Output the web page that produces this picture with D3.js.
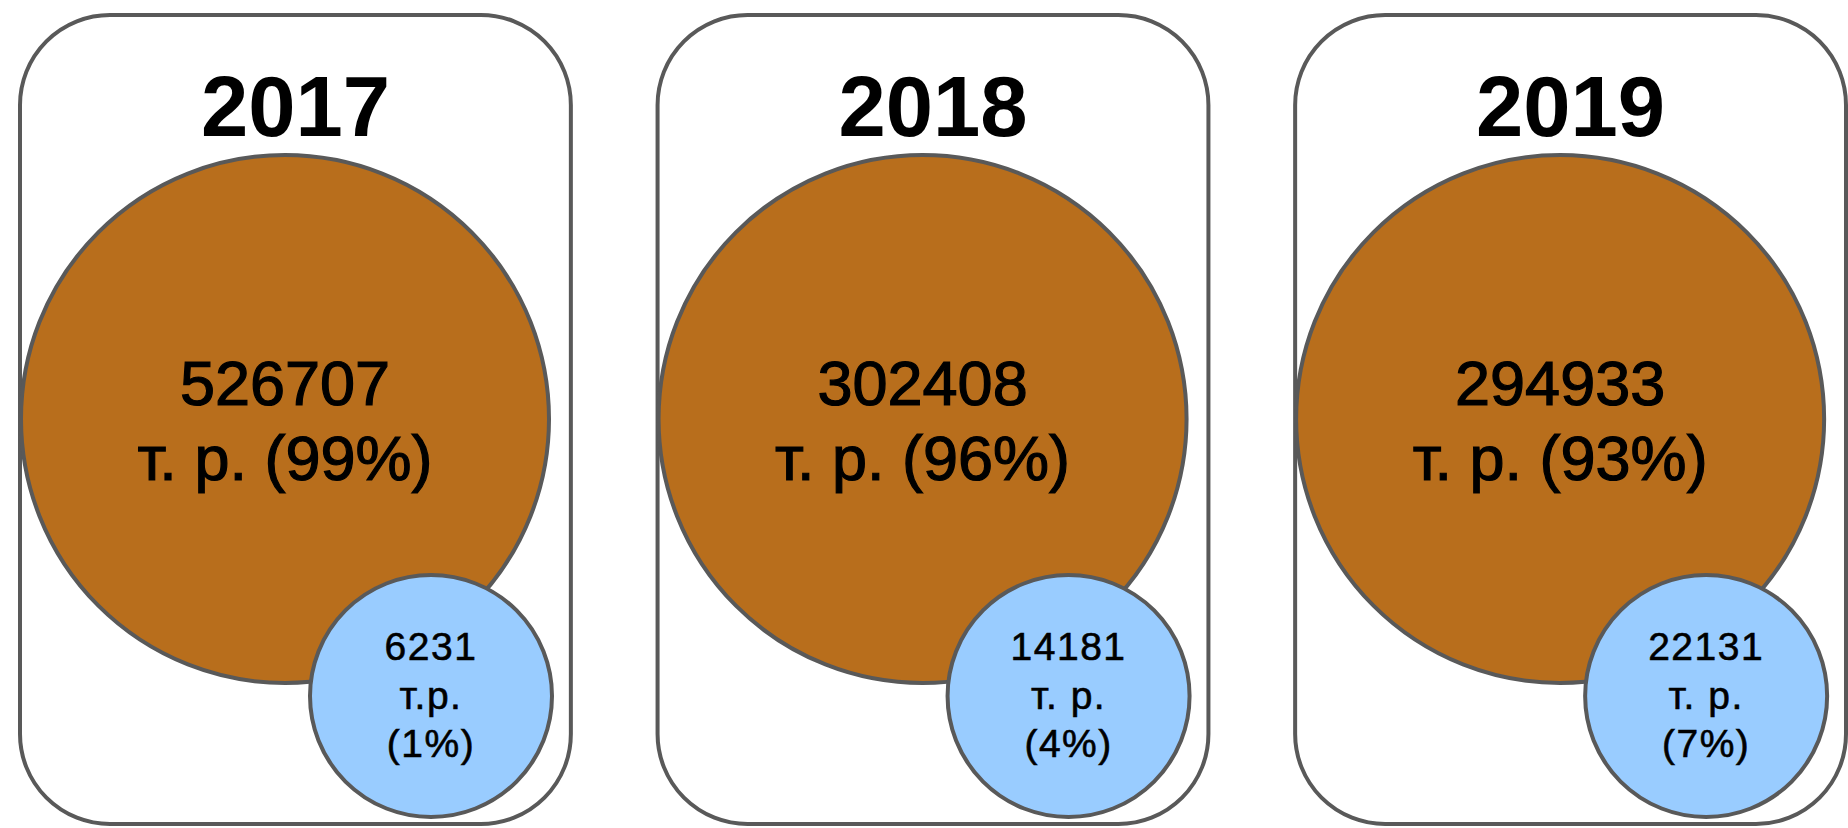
<!DOCTYPE html>
<html>
<head>
<meta charset="utf-8">
<script src="https://cdn.jsdelivr.net/npm/d3@7"></script>
<style>
  body { margin: 0; background: #fff; }
  text { font-family: "Liberation Sans", Arial, sans-serif; fill: #000; }
</style>
</head>
<body>
<svg id="canvas"></svg>
<script>
const w = 1848,
h = 828;

// data
const years = ["2017", "2018", "2019"];
const bigValues = [526707, 302408, 294933];
const bigShares = ["99%", "96%", "93%"];
const smallValues = [6231, 14181, 22131];
const smallShares = ["1%", "4%", "7%"];
const smallUnits = ["т.р.", "т. р.", "т. р."];

const data = years.map((y, i) => ({
  year: y,
  big: bigValues[i],
  bigShare: bigShares[i],
  small: smallValues[i],
  smallShare: smallShares[i],
  unit: smallUnits[i]
}));

const svg = d3.select("#canvas")
  .attr("width", w)
  .attr("height", h);

// panels laid out with a band scale
const x = d3.scaleBand()
  .domain(years)
  .range([20, 1846])
  .paddingInner(0.136);

const panelTop = 15, panelBottom = 824;
const bigR = 264, smallR = 121;
const bigCx = 265, smallCx = 411;
const bigCy = 419, smallCy = 696;
const stroke = "#595959";

const g = svg.selectAll("g.panel")
  .data(data)
  .enter()
  .append("g")
    .attr("class", "panel")
    .attr("transform", d => `translate(${x(d.year)},0)`);

g.append("rect")
  .attr("x", 0)
  .attr("y", panelTop)
  .attr("width", x.bandwidth())
  .attr("height", panelBottom - panelTop)
  .attr("rx", 90)
  .attr("ry", 90)
  .style("fill", "#fff")
  .style("stroke", stroke)
  .style("stroke-width", 4);

g.append("text")
  .attr("x", x.bandwidth() / 2)
  .attr("y", panelTop + 121)
  .attr("text-anchor", "middle")
  .style("font-size", "85px")
  .style("font-weight", "bold")
  .text(d => d.year);

// big circle
g.append("circle")
  .attr("cx", bigCx)
  .attr("cy", bigCy)
  .attr("r", bigR)
  .style("fill", "#B86E1C")
  .style("stroke", stroke)
  .style("stroke-width", 4);

const bigText = g.append("text")
  .attr("text-anchor", "middle")
  .style("font-size", "63px")
  .style("stroke", "#000")
  .style("stroke-width", 1.2);
bigText.append("tspan")
  .attr("x", bigCx)
  .attr("y", bigCy - 14)
  .text(d => d.big);
bigText.append("tspan")
  .attr("x", bigCx)
  .attr("y", bigCy + 61)
  .text(d => `т. р. (${d.bigShare})`);

// small circle
g.append("circle")
  .attr("cx", smallCx)
  .attr("cy", smallCy)
  .attr("r", smallR)
  .style("fill", "#99CCFF")
  .style("stroke", stroke)
  .style("stroke-width", 4);

const smallText = g.append("text")
  .attr("text-anchor", "middle")
  .style("font-size", "39px")
  .style("letter-spacing", "1.5px")
  .style("stroke", "#000")
  .style("stroke-width", 0.6);
smallText.append("tspan")
  .attr("x", smallCx)
  .attr("y", smallCy - 36)
  .text(d => d.small);
smallText.append("tspan")
  .attr("x", smallCx)
  .attr("y", smallCy + 13)
  .text(d => d.unit);
smallText.append("tspan")
  .attr("x", smallCx)
  .attr("y", smallCy + 61)
  .text(d => `(${d.smallShare})`);
</script>
</body>
</html>
